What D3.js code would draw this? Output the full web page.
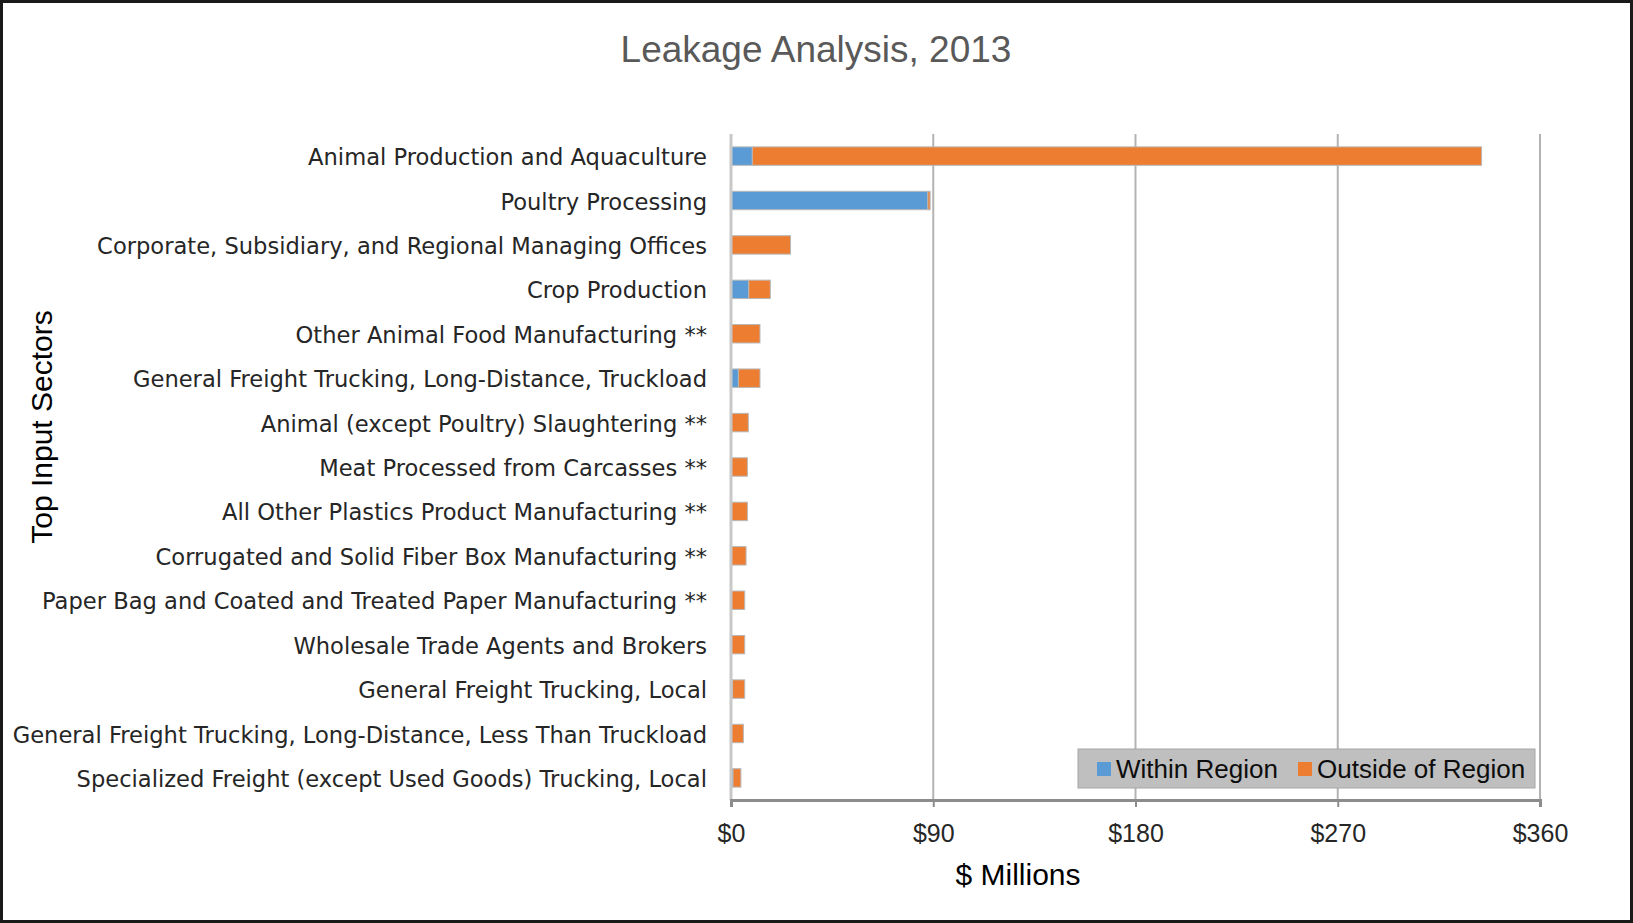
<!DOCTYPE html>
<html>
<head>
<meta charset="utf-8">
<script src="https://cdn.jsdelivr.net/npm/d3@7/dist/d3.min.js"></script>
<style>
  html, body { margin: 0; padding: 0; background: #fff; }
  svg { display: block; }
  .cat { font-family: "DejaVu Sans", "Liberation Sans", sans-serif; fill: #262626; }
</style>
</head>
<body>
<svg id="chart" width="1633" height="923"></svg>
<script>
// sectors, top to bottom
const sectors = [
  'Animal Production and Aquaculture',
  'Poultry Processing',
  'Corporate, Subsidiary, and Regional Managing Offices',
  'Crop Production',
  'Other Animal Food Manufacturing **',
  'General Freight Trucking, Long-Distance, Truckload',
  'Animal (except Poultry) Slaughtering **',
  'Meat Processed from Carcasses **',
  'All Other Plastics Product Manufacturing **',
  'Corrugated and Solid Fiber Box Manufacturing **',
  'Paper Bag and Coated and Treated Paper Manufacturing **',
  'Wholesale Trade Agents and Brokers',
  'General Freight Trucking, Local',
  'General Freight Trucking, Long-Distance, Less Than Truckload',
  'Specialized Freight (except Used Goods) Trucking, Local'
];
// $ millions
const withinRegion = [9.5, 87.6, 0, 7.9, 0, 3.3, 0, 0, 0, 0, 0, 0, 0.7, 0, 0.9];
const outsideRegion = [324.5, 1.0, 26.5, 9.6, 12.9, 9.6, 7.7, 7.3, 7.3, 6.7, 6.1, 6.1, 5.4, 5.5, 3.5];
const seriesNames = ['Within Region', 'Outside of Region'];
const seriesColors = ['#5b9bd5', '#ed7d31'];
const xTicks = [0, 90, 180, 270, 360];

const svg = d3.select('#chart');
const W = 1633, H = 923;
const plot = { left: 731, right: 1540, top: 134, bottom: 800 };

// outer frame
svg.append('rect')
  .attr('x', 1.5).attr('y', 1.5)
  .attr('width', W - 3).attr('height', H - 3)
  .attr('fill', '#fff').attr('stroke', '#1a1a1a').attr('stroke-width', 3);

// title
svg.append('text')
  .attr('x', 816).attr('y', 62)
  .attr('text-anchor', 'middle')
  .attr('font-family', '"Liberation Sans Narrow", "Liberation Sans", sans-serif')
  .attr('font-size', 37)
  .attr('fill', '#595959')
  .text('Leakage Analysis, 2013');

const x = d3.scaleLinear().domain([0, 360]).range([plot.left, plot.right]);
const y = d3.scaleBand().domain(sectors).range([plot.top, plot.bottom]).paddingInner(0.585).paddingOuter(0.29);

// gridlines
svg.append('g')
  .selectAll('line')
  .data(xTicks.slice(1))
  .join('line')
  .attr('x1', (d) => x(d)).attr('x2', (d) => x(d))
  .attr('y1', plot.top).attr('y2', plot.bottom)
  .attr('stroke', '#b3b3b3').attr('stroke-width', 2);

// stacked bars
const rows = sectors.map((s, i) => ({ sector: s, within: withinRegion[i], outside: outsideRegion[i] }));
const stacked = d3.stack().keys(['within', 'outside'])(rows);

svg.append('g')
  .selectAll('g')
  .data(stacked)
  .join('g')
  .attr('fill', (d, i) => seriesColors[i])
  .selectAll('rect')
  .data((d) => d.filter((p) => p[1] - p[0] > 0))
  .join('rect')
  .attr('x', (d) => x(d[0]))
  .attr('y', (d) => y(d.data.sector))
  .attr('width', (d) => x(d[1]) - x(d[0]))
  .attr('height', y.bandwidth())
  .attr('stroke', '#b8b8b8')
  .attr('stroke-width', 1);

// vertical axis line
svg.append('line')
  .attr('x1', plot.left).attr('x2', plot.left)
  .attr('y1', plot.top).attr('y2', plot.bottom)
  .attr('stroke', '#c8c8c8').attr('stroke-width', 3);

// category labels
svg.append('g')
  .selectAll('text')
  .data(sectors)
  .join('text')
  .attr('class', 'cat')
  .attr('x', 707)
  .attr('y', (d) => y(d) + y.bandwidth() / 2)
  .attr('dy', '0.4em')
  .attr('text-anchor', 'end')
  .attr('font-size', 22.6)
  .text((d) => d);

// x axis
const xAxis = svg.append('g')
  .attr('transform', `translate(0,${plot.bottom})`)
  .call(d3.axisBottom(x).tickValues(xTicks).tickSize(7).tickFormat((d) => '$' + d));
xAxis.select('.domain').attr('stroke', '#8c8c8c').attr('stroke-width', 3);
xAxis.selectAll('.tick line').attr('stroke', '#8c8c8c').attr('stroke-width', 2);
xAxis.selectAll('.tick text')
  .attr('font-family', '"Liberation Sans", sans-serif')
  .attr('font-size', 25)
  .attr('fill', '#262626')
  .attr('dy', '1.27em');

// axis titles
svg.append('text')
  .attr('x', 1018).attr('y', 885)
  .attr('text-anchor', 'middle')
  .attr('font-family', '"Liberation Sans", sans-serif')
  .attr('font-size', 30)
  .attr('fill', '#000')
  .text('$ Millions');

svg.append('text')
  .attr('transform', 'translate(52,427) rotate(-90)')
  .attr('text-anchor', 'middle')
  .attr('font-family', '"Liberation Sans", sans-serif')
  .attr('font-size', 30)
  .attr('fill', '#000')
  .text('Top Input Sectors');

// legend
const legend = svg.append('g').attr('transform', 'translate(1078,749)');
legend.append('rect')
  .attr('width', 457).attr('height', 39)
  .attr('fill', '#bfbfbf').attr('stroke', '#a6a6a6');
const legendX = [19, 220];
seriesNames.forEach((name, i) => {
  legend.append('rect')
    .attr('x', legendX[i]).attr('y', 13)
    .attr('width', 14).attr('height', 14)
    .attr('fill', seriesColors[i]);
  legend.append('text')
    .attr('x', legendX[i] + 19).attr('y', 20)
    .attr('dy', '0.35em')
    .attr('font-family', '"Liberation Sans", sans-serif')
    .attr('font-size', 26)
    .attr('fill', '#0d0d0d')
    .text(name);
});
</script>
</body>
</html>
